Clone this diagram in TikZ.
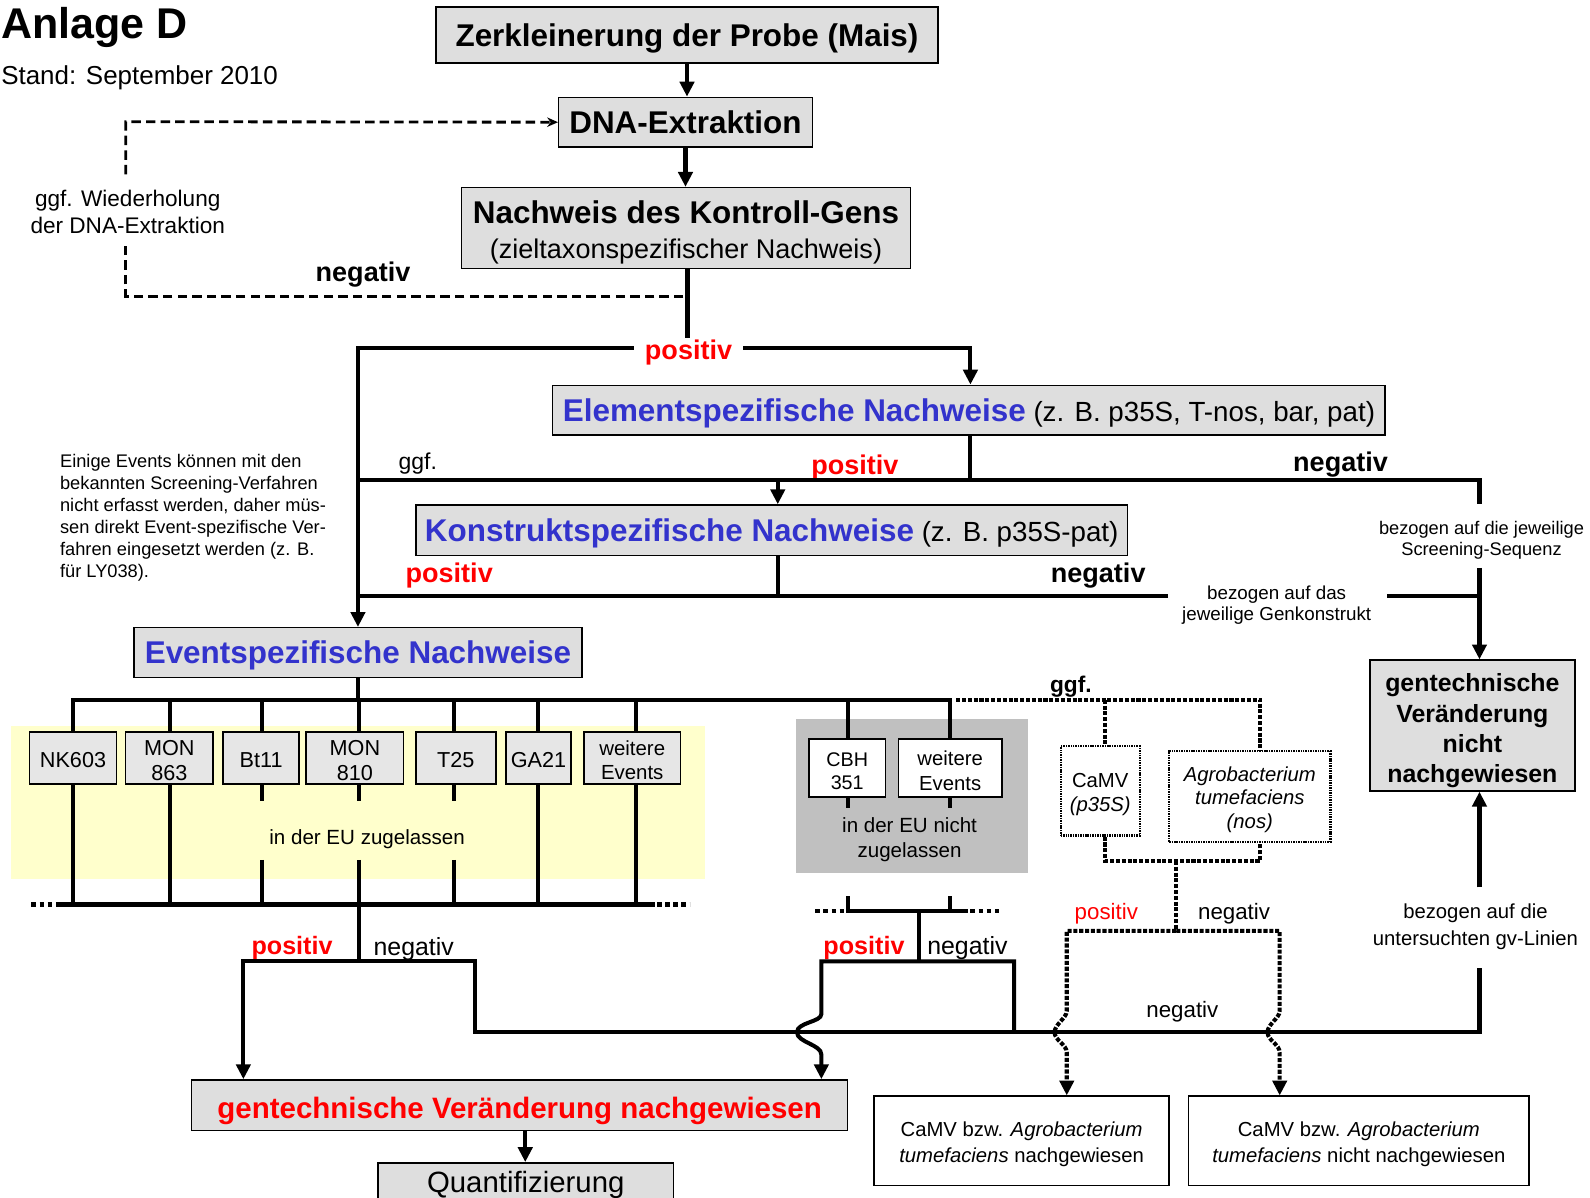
\documentclass[tikz,border=0pt]{standalone}
\usepackage{fontspec}
\setmainfont{Liberation Sans}
\usetikzlibrary{arrows.meta}
\definecolor{boxgray}{HTML}{DEDEDE}
\definecolor{evgray}{HTML}{E6E6E6}
\definecolor{regiongray}{HTML}{C0C0C0}
\definecolor{lightyellow}{HTML}{FFFFCC}
\definecolor{headblue}{HTML}{3333CC}
\definecolor{alertred}{HTML}{FF0000}
\newcommand{\fsz}[2]{\fontsize{#1pt}{#2pt}\selectfont}
\newcommand{\lift}[1]{\rule{0pt}{#1pt}}
\begin{document}
\begin{tikzpicture}[x=0.75pt,y=-0.75pt,
  box/.style={draw=black,line width=1.1pt,fill=boxgray,inner sep=0pt,align=center},
  evbox/.style={box,fill=evgray},
  wbox/.style={box,fill=white},
  dbox/.style={draw=black,line width=1.6pt,dash pattern=on 1.1pt off 0.7pt,fill=white,inner sep=0pt,align=center},
  sz/.style 2 args={minimum width=#1*0.75pt,minimum height=#2*0.75pt},
  lowtxt/.style={text height=#1,text depth=0pt},
  ttl/.style={inner sep=0pt},
  lbl/.style={inner sep=0pt,align=center,yshift=-2.25pt},
  redlbl/.style={lbl,text=alertred},
  conn/.style={line width=3pt},
  arr/.style={line width=3pt,-{Triangle[length=11pt,width=10.5pt]}},
  dotl/.style={line width=3pt,dash pattern=on 3pt off 1.3pt},
  ellip/.style={line width=3pt,dash pattern=on 3.4pt off 2.6pt},
  dotarr/.style={dotl,-{Triangle[length=11pt,width=10.5pt]}},
  dashl/.style={line width=2.1pt,dash pattern=on 7pt off 3.8pt},
]
\clip (0,0) rectangle (1568,1181);
\fill[white] (0,0) rectangle (1568,1181);
% backgrounds
\fill[lightyellow] (11,716) rectangle (695,867);
\fill[regiongray] (785,709) rectangle (1014,861);

% titles
\node[ttl,anchor=base west,font={\bfseries\fsz{31.8}{38}}] (anlage) at (1,38) {Anlage D};
\node[ttl,anchor=base west,font={\fsz{19.2}{23}}] (stand) at (1,83) {Stand: September 2010};

% main boxes
\node[box,sz={495}{55},lowtxt=16.7pt,font={\bfseries\fsz{23.25}{28}}] (zerk) at (677.5,34.5) {Zerkleinerung der Probe (Mais)};
\node[box,sz={250}{49},lowtxt=16.7pt,font={\bfseries\fsz{23.25}{28}}] (dna) at (676,120.5) {DNA-Extraktion};
\node[box,sz={443}{80},font={\fsz{20}{26}}] (kontroll) at (676.5,225) {{\bfseries\fsz{23.25}{26}\lift{23}Nachweis des Kontroll-Gens}\\(zieltaxonspezifischer Nachweis)};
\node[box,sz={821}{49},lowtxt=16.7pt] (element) at (955.5,404.5) {{\color{headblue}\bfseries\fsz{23.25}{28}Elementspezifische Nachweise}{\fsz{20.5}{28} (z. B. p35S, T-nos, bar, pat)}};
\node[box,sz={702}{50},lowtxt=16.7pt] (konstrukt) at (761,523) {{\color{headblue}\bfseries\fsz{23.25}{28}Konstruktspezifische Nachweise}{\fsz{20.5}{28} (z. B. p35S-pat)}};
\node[box,sz={442}{49},lowtxt=16.7pt,text=headblue,font={\bfseries\fsz{23.25}{28}}] (event) at (353,643.5) {Eventspezifische Nachweise};
\node[box,sz={202}{129},font={\bfseries\fsz{18.4}{22.5}}] (nicht) at (1452,715.5) {\lift{21.3}gentechnische\\Veränderung\\nicht\\nachgewiesen};
\node[box,sz={647}{50},lowtxt=18.9pt,text=alertred,font={\bfseries\fsz{21.8}{26}}] (nachgew) at (512.5,1090) {gentechnische Veränderung nachgewiesen};
\node[box,sz={291}{60},anchor=north] (quant) at (518.5,1146) {};
\node[lbl,font={\fsz{21.7}{26}}] (quanttext) at (518.5,1166) {Quantifizierung};

% event boxes
\node[evbox,sz={86}{51},lowtxt=14.5pt,font={\fsz{16}{18.75}}] (nk) at (72,747.5) {NK603};
\node[evbox,sz={86}{51},font={\fsz{16}{18.75}}] (monA) at (167,747.5) {\lift{14.7}MON\\863};
\node[evbox,sz={75}{51},lowtxt=14.5pt,font={\fsz{16}{18.75}}] (bt) at (257.5,747.5) {Bt11};
\node[evbox,sz={96}{51},font={\fsz{16}{18.75}}] (monB) at (350,747.5) {\lift{14.7}MON\\810};
\node[evbox,sz={79}{51},lowtxt=14.5pt,font={\fsz{16}{18.75}}] (tf) at (449.5,747.5) {T25};
\node[evbox,sz={64}{51},lowtxt=14.5pt,font={\fsz{16}{18.75}}] (ga) at (531,747.5) {GA21};
\node[evbox,sz={95}{51},font={\fsz{15.1}{18}}] (weiA) at (623.5,747.5) {\lift{14}weitere\\Events};
\node[wbox,sz={75}{57},font={\fsz{14.6}{17}}] (cbh) at (835.5,757.5) {\lift{14.5}CBH\\351};
\node[wbox,sz={102}{57},font={\fsz{15}{18}}] (weiB) at (937,757.5) {\lift{14.5}weitere\\Events};
\node[dbox,sz={78}{88},font={\fsz{15}{18}}] (camv) at (1085,780) {\lift{15.5}CaMV\\\textit{(p35S)}};
\node[dbox,sz={159}{89},font={\fsz{15}{17.6}}] (agro) at (1232.5,785.5) {\lift{15.5}\textit{Agrobacterium}\\\textit{tumefaciens}\\\textit{(nos)}};
\node[wbox,sz={291}{88},font={\fsz{15}{19.5}}] (camvN) at (1007.5,1125) {\lift{16.3}CaMV bzw. \textit{Agrobacterium}\\\textit{tumefaciens} nachgewiesen};
\node[wbox,sz={336}{88},font={\fsz{15}{19.5}}] (camvNN) at (1340,1125) {\lift{16.3}CaMV bzw. \textit{Agrobacterium}\\\textit{tumefaciens} nicht nachgewiesen};

% labels
\node[lbl,font={\fsz{16.7}{20}}] (wied) at (126,206) {ggf. Wiederholung\\der DNA-Extraktion};
\node[lbl,font={\bfseries\fsz{20}{24}}] (neg0) at (358,268) {negativ};
\node[redlbl,font={\bfseries\fsz{20}{24}}] (pos1) at (679,345) {positiv};
\node[lbl,font={\fsz{17}{20}}] (ggfA) at (412,454) {ggf.};
\node[redlbl,font={\bfseries\fsz{20}{24}}] (pos2) at (843,458) {positiv};
\node[lbl,font={\bfseries\fsz{20}{24}}] (neg2) at (1322,455) {negativ};
\node[lbl,font={\fsz{13.5}{15.75}}] (bezA) at (1461,530) {bezogen auf die jeweilige\\Screening-Sequenz};
\node[redlbl,font={\bfseries\fsz{20}{24}}] (pos3) at (443,565) {positiv};
\node[lbl,font={\bfseries\fsz{20}{24}}] (neg3) at (1083,565) {negativ};
\node[lbl,font={\fsz{13.9}{15.75}}] (bezB) at (1259,594) {bezogen auf das\\jeweilige Genkonstrukt};
\node[lbl,anchor=north west,align=left,font={\fsz{13.5}{16.2}}] (para) at (59,445) {Einige Events können mit den\\bekannten Screening-Verfahren\\nicht erfasst werden, daher müs-\\sen direkt Event-spezifische Ver-\\fahren eingesetzt werden (z. B.\\für LY038).};
\node[lbl,font={\bfseries\fsz{16.8}{20}}] (ggfB) at (1056,674) {ggf.};
\node[lbl,font={\fsz{15.2}{18}}] (ez) at (362,825) {in der EU zugelassen};
\node[lbl,font={\fsz{15.2}{18}}] (nz) at (897,825) {in der EU nicht\\zugelassen};
\node[redlbl,font={\fsz{16.5}{20}}] (pos4) at (1091,898) {positiv};
\node[lbl,font={\fsz{16.5}{20}}] (neg4) at (1217,898) {negativ};
\node[lbl,font={\fsz{15}{19.5}}] (bezC) at (1455,911) {bezogen auf die\\untersuchten gv-Linien};
\node[redlbl,font={\bfseries\fsz{18.6}{22}}] (pos5) at (288,932) {positiv};
\node[lbl,font={\fsz{18.4}{22}}] (neg5) at (408,933) {negativ};
\node[redlbl,font={\bfseries\fsz{18.6}{22}}] (pos6) at (852,932) {positiv};
\node[lbl,font={\fsz{18.4}{22}}] (neg6) at (954,932) {negativ};
\node[lbl,font={\fsz{16.5}{20}}] (neg7) at (1166,995) {negativ};

% coordinates
\coordinate (pl) at (353,343);
\coordinate (pr) at (957,343);
\coordinate (pc) at (678,333);

% top connectors
\draw[arr] (zerk.south) -- (zerk.south |- dna.north);
\draw[arr] (dna.south) -- (dna.south |- kontroll.north);
\draw[conn] (pc |- kontroll.south) -- (pc);
\draw[arr] (625,343) -- (pl) -- (pl |- event.north);
\draw[arr] (733,343) -- (pr) -- (pr |- element.north);

% dashed loop
\draw[dashl] (674,292) -- (124,292) -- (124,240);
\draw[dashl,-{Stealth[length=8pt,width=7pt]}] (124,172) -- (124,120) -- (dna.west);

% element / konstrukt
\draw[conn] (pr |- element.south) -- (957,473);
\draw[conn] (1459,497) -- (1459,473) -- (353,473);
\draw[arr] (767,473) -- (767,0 |- konstrukt.north);
\draw[conn] (767,0 |- konstrukt.south) -- (767,588);
\draw[conn] (1152,588) -- (353,588);
\draw[conn] (1368,588) -- (1459,588);
\draw[arr] (1459,560) -- (1459,0 |- nicht.north);

% event level
\draw[conn] (event.south) -- (353,690);
\draw[conn] (72,0 |- nk.north) -- (72,690) -- (937,690) -- (937,0 |- weiB.north);
\draw[conn] (836,690) -- (836,0 |- cbh.north);
\foreach \n/\x in {monA/168,bt/258,monB/354,tf/448,ga/531,weiA/627}
  \draw[conn] (\x,690) -- (\n.north -| \x,0);
\foreach \n/\x in {nk/72,monA/168,ga/531,weiA/627}
  \draw[conn] (\n.south -| \x,0) -- (\x,892);
\foreach \n/\x in {bt/258,monB/354,tf/448}{
  \draw[conn] (\n.south -| \x,0) -- (\x,790);
  \draw[conn] (\x,848) -- (\x,892);}
\draw[conn] (59,892) -- (646,892);
\draw[ellip] (31,892) -- (59,892);
\draw[ellip] (648,892) -- (680,892);
\draw[conn] (354,892) -- (354,948);
\draw[arr] (1459,955) -- (1459,1018) -- (468,1018) -- (468,948) -- (240,948) -- (240,0 |- nachgew.north);
\draw[arr] (1459,875) -- (1459,0 |- nicht.south);

% not authorised events
\draw[conn] (836,0 |- cbh.south) -- (836,797);
\draw[conn] (937,0 |- weiB.south) -- (937,797);
\draw[conn] (836,884) -- (836,898) -- (955,898);
\draw[conn] (937,884) -- (937,898);
\draw[ellip] (804,898) -- (832,898);
\draw[ellip] (957,898) -- (987,898);
\draw[conn] (906,898) -- (906,948);
\draw[arr] (1000,1018) -- (1000,948) -- (810,948) -- (810,1000)
  .. controls (810,1008) and (786,1008) .. (786,1018)
  .. controls (786,1028) and (810,1030) .. (810,1040) -- (810,0 |- nachgew.north);

% dotted screening branch
\draw[dotl] (943,690) -- (1243,690) -- (1243,0 |- agro.north);
\draw[dotl] (1090,690) -- (1090,0 |- camv.north);
\draw[dotl] (1090,0 |- camv.south) -- (1090,849) -- (1243,849) -- (1243,0 |- agro.south);
\draw[dotl] (1160,849) -- (1160,918);
\draw[dotarr] (1160,918) -- (1052,918) -- (1052,997)
  .. controls (1052,1004) and (1040,1010) .. (1040,1018)
  .. controls (1040,1026) and (1052,1030) .. (1052,1038) -- (1052,0 |- camvN.north);
\draw[dotarr] (1160,918) -- (1262,918) -- (1262,997)
  .. controls (1262,1004) and (1250,1010) .. (1250,1018)
  .. controls (1250,1026) and (1262,1030) .. (1262,1038) -- (1262,0 |- camvNN.north);

% quantification
\draw[arr] (518,0 |- nachgew.south) -- (518,0 |- quant.north);
\end{tikzpicture}
\end{document}
